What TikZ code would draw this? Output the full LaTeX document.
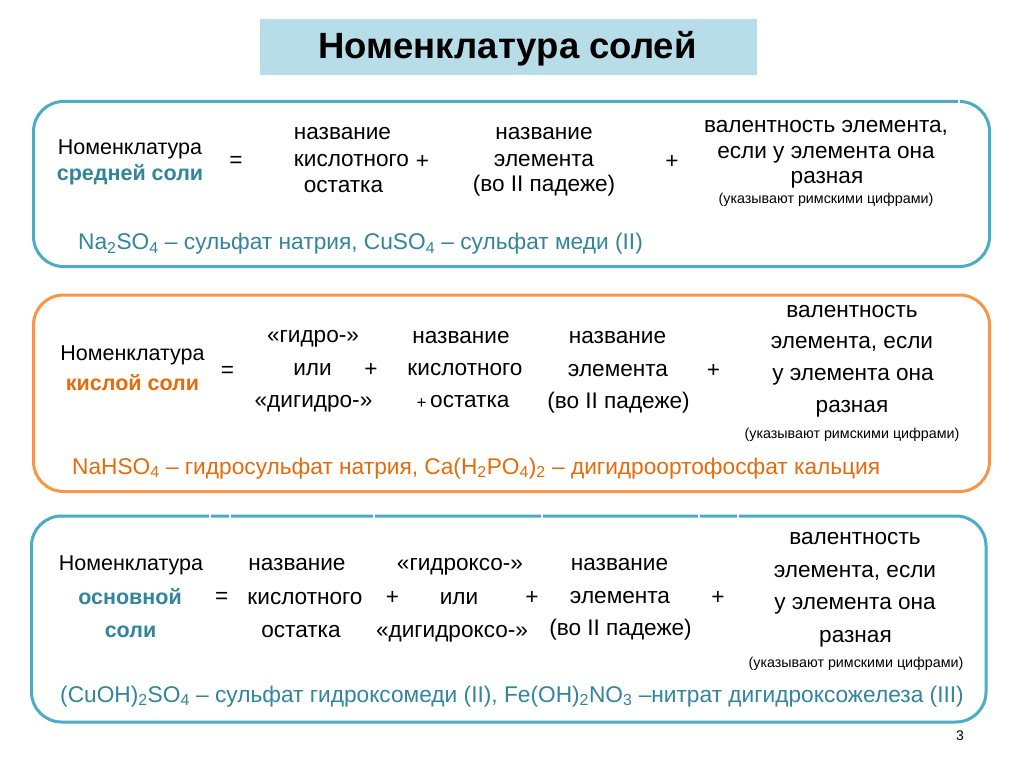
\documentclass[tikz,border=0pt]{standalone}
\usepackage{fontspec}
\setmainfont{Liberation Sans}
\definecolor{tealline}{HTML}{4BACC6}
\definecolor{tealtext}{HTML}{31859C}
\definecolor{orangeline}{HTML}{F79646}
\definecolor{orangetext}{HTML}{E46C0A}
\definecolor{titlebg}{HTML}{B7DEE8}
\tikzset{
  txt/.style={inner sep=0pt, anchor=base, font=\fontsize{22.6}{27}\selectfont},
  lbl/.style={inner sep=0pt, anchor=base, font=\fontsize{21.5}{26}\selectfont},
  lblb/.style={inner sep=0pt, anchor=base, font=\fontsize{21.5}{26}\selectfont\bfseries},
  sym/.style={inner sep=0pt, anchor=center, font=\fontsize{22.6}{27}\selectfont},
  note/.style={inner sep=0pt, anchor=base, font=\fontsize{14.3}{17}\selectfont},
  formula/.style={inner sep=0pt, anchor=base west, font=\fontsize{22.7}{27}\selectfont},
  frame/.style={line width=3pt, rounded corners=30pt},
  gap/.style={white, line width=1.3pt},
}
\begin{document}
\begin{tikzpicture}[x=1pt,y=-1pt]
\useasboundingbox (0,0) rectangle (1024,767);
\fill[white] (0,0) rectangle (1024,767);
% title
\fill[titlebg] (260,19) rectangle (757,75);
\node[inner sep=0pt, anchor=base, font=\fontsize{36.5}{42}\selectfont\bfseries] (title) at (507.5,59) {Номенклатура солей};
% frames
\draw[frame, draw=tealline] (33.5,101.5) rectangle (989.5,266.5);
\draw[frame, draw=orangeline] (33.5,295) rectangle (989.5,491.5);
\draw[frame, draw=tealline] (31.5,516) rectangle (986,722);
\draw[gap] (959,98) -- (959,105);
\foreach \gx in {210,230,374,542,699,738} \draw[gap] (\gx,512.5) -- (\gx,519.5);
% box 1
\node[lbl] (b1n1) at (130,155) {Номенклатура};
\node[lblb, text=tealtext] (b1n2) at (130,181) {средней соли};
\node[sym] (b1eq) at (236,162) {=};
\node[txt] (b1a1) at (342.5,140) {название};
\node[txt] (b1a2) at (351.5,167) {кислотного};
\node[txt] (b1a3) at (343.5,193) {остатка};
\node[sym] (b1p1) at (422.5,161.5) {+};
\node[txt] (b1b1) at (544,140) {название};
\node[txt] (b1b2) at (544,166.5) {элемента};
\node[txt] (b1b3) at (544,192) {(во II падеже)};
\node[sym] (b1p2) at (672,162) {+};
\node[txt] (b1c1) at (826,133) {валентность элемента,};
\node[txt] (b1c2) at (826,158.5) {если у элемента она};
\node[txt] (b1c3) at (827,184) {разная};
\node[note] (b1c4) at (826,204) {(указывают римскими цифрами)};
\node[formula, text=tealtext] (b1f) at (78,249.5) {Na\textsubscript{2}SO\textsubscript{4} – сульфат натрия, CuSO\textsubscript{4} – сульфат меди (II)};
% box 2
\node[lbl] (b2n1) at (132.5,360) {Номенклатура};
\node[lblb, text=orangetext] (b2n2) at (132.5,390) {кислой соли};
\node[sym] (b2eq) at (227.5,371.5) {=};
\node[txt] (b2a1) at (313,342) {«гидро-»};
\node[txt] (b2a2) at (312.5,375) {или};
\node[txt] (b2a3) at (313.5,407) {«дигидро-»};
\node[sym] (b2p1) at (371,370) {+};
\node[txt] (b2b1) at (461,343) {название};
\node[txt] (b2b2) at (465,375) {кислотного};
\node[sym, font=\fontsize{17}{20}\selectfont] (b2p3) at (421.7,404) {+};
\node[txt, anchor=base west] (b2b3) at (430,407) {остатка};
\node[txt] (b2c1) at (617.5,343) {название};
\node[txt] (b2c2) at (618,376) {элемента};
\node[txt] (b2c3) at (618.5,408) {(во II падеже)};
\node[sym] (b2p2) at (713.5,371) {+};
\node[txt] (b2d1) at (852,317) {валентность};
\node[txt] (b2d2) at (852,348.5) {элемента, если};
\node[txt] (b2d3) at (853,380) {у элемента она};
\node[txt] (b2d4) at (852,412) {разная};
\node[note] (b2d5) at (852,438) {(указывают римскими цифрами)};
\node[formula, text=orangetext] (b2f) at (72,474) {NaHSO\textsubscript{4} – гидросульфат натрия, Ca(H\textsubscript{2}PO\textsubscript{4})\textsubscript{2} – дигидроортофосфат кальция};
% box 3
\node[lbl] (b3n1) at (131,570) {Номенклатура};
\node[lblb, text=tealtext] (b3n2) at (130,604) {основной};
\node[lblb, text=tealtext] (b3n3) at (130.5,637) {соли};
\node[sym] (b3eq) at (221.7,598) {=};
\node[txt] (b3a1) at (297,570) {название};
\node[txt] (b3a2) at (305,604) {кислотного};
\node[txt] (b3a3) at (301,637) {остатка};
\node[sym] (b3p1) at (392.5,598) {+};
\node[txt] (b3b1) at (460,570) {«гидроксо-»};
\node[txt] (b3b2) at (459,604) {или};
\node[txt] (b3b3) at (452,637) {«дигидроксо-»};
\node[sym] (b3p2) at (532,598) {+};
\node[txt] (b3c1) at (619.5,570) {название};
\node[txt] (b3c2) at (620,603) {элемента};
\node[txt] (b3c3) at (620.5,635) {(во II падеже)};
\node[sym] (b3p3) at (718,598) {+};
\node[txt] (b3d1) at (855,544) {валентность};
\node[txt] (b3d2) at (855,577) {элемента, если};
\node[txt] (b3d3) at (855,609) {у элемента она};
\node[txt] (b3d4) at (855.5,642) {разная};
\node[note] (b3d5) at (856,667) {(указывают римскими цифрами)};
\node[formula, text=tealtext] (b3f) at (60,702) {(CuOH)\textsubscript{2}SO\textsubscript{4} – сульфат гидроксомеди (II), Fe(OH)\textsubscript{2}NO\textsubscript{3} –нитрат дигидроксожелеза (III)};
% page number
\node[inner sep=0pt, anchor=base, font=\fontsize{14}{16}\selectfont] (page) at (960,740) {3};
\end{tikzpicture}
\end{document}
